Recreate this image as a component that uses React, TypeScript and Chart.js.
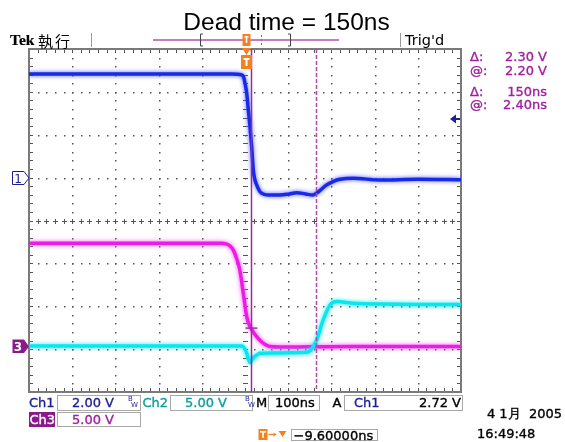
import React, { useEffect, useRef } from 'react';
import { Chart, registerables } from 'chart.js';

Chart.register(...registerables);

// ---- scope settings ----
const timeRangeNs = [-500, 500];
const ch1VoltsPerDiv = 2;
const ch1GroundDiv = 1;
const ch2VoltsPerDiv = 5;
const ch2GroundDiv = -2.95;
const ch3VoltsPerDiv = 5;
const ch3GroundDiv = -2.95;
const cursorTimesNs = [13.9, 163.9];
const cursorVoltCh3 = 2.2;
const triggerLevelCh1 = 2.72;
const triggerTimeNs = 3.5;

// ---- Ch1 (blue) ----
const ch1Time = [-500, -30, -8, -3, 1, 4, 7.5, 11.6, 15.5, 19.2, 23, 27, 34.7, 45, 55, 81, 100, 120, 140, 157, 166, 178, 189, 205, 220, 250, 312, 400, 500];
const ch1Volts = [4.83, 4.83, 4.8, 4.68, 4.3, 3.94, 3.2, 2.36, 1.43, 0.35, -0.1, -0.34, -0.66, -0.78, -0.81, -0.81, -0.77, -0.7, -0.76, -0.81, -0.72, -0.52, -0.34, -0.17, -0.08, -0.03, -0.11, -0.08, -0.1];

// ---- Ch2 (cyan) ----
const ch2Time = [-500, -8, -3, 4, 11.6, 15, 19.2, 27, 34.7, 65, 100, 143, 152, 158, 166, 181, 197, 212, 251, 312, 400, 500];
const ch2Volts = [0.12, 0.12, 0.0, -0.73, -1.82, -1.6, -1.27, -0.95, -0.73, -0.7, -0.68, -0.62, -0.4, 0.04, 0.82, 3.15, 4.9, 5.29, 5.1, 5.0, 4.95, 4.95];

// ---- Ch3 (magenta) ----
const ch3Time = [-500, -55, -42, -35, -27, -20, -12, -4, 4, 11.6, 19, 27, 35, 42, 50, 58, 80, 150, 250, 500];
const ch3Volts = [12.1, 12.1, 12.0, 11.8, 11.3, 10.4, 8.98, 6.3, 3.54, 2.37, 1.75, 1.2, 0.75, 0.44, 0.2, 0.06, 0.0, 0.02, 0.05, 0.05];

const pts = (t: number[], v: number[]) => t.map((x, i) => ({ x, y: v[i] }));
const axisRange = (vpd: number, g: number) => ({ min: (-4 - g) * vpd, max: (4 - g) * vpd });

const NAVY = '#1e1e96';
const TEAL = '#0a9e9e';
const PURPLE = '#a020a0';
const ORANGE = '#f5801e';

const graticule = {
  id: 'graticule',
  beforeDatasetsDraw(chart: any) {
    const { ctx, chartArea: a } = chart;
    const W = a.right - a.left;
    const H = a.bottom - a.top;
    const dx = W / 10;
    const dy = H / 8;
    ctx.save();
    ctx.fillStyle = '#ffffff';
    ctx.fillRect(a.left, a.top, W, H);
    ctx.fillStyle = '#555';
    // vertical major lines
    for (let i = 1; i < 10; i++) {
      const x = Math.round(a.left + i * dx);
      for (let j = 1; j < 40; j++) {
        const y = Math.round(a.top + (j * dy) / 5);
        if (i === 5) ctx.fillRect(x - 2, y, 5, 1);
        else ctx.fillRect(x, y, 1.5, 1.5);
      }
    }
    // horizontal major lines
    for (let k = 1; k < 8; k++) {
      const y = Math.round(a.top + k * dy);
      for (let j = 1; j < 50; j++) {
        const x = Math.round(a.left + (j * dx) / 5);
        if (k === 4) {
          ctx.fillRect(x, y - 2, 1, 5);
          ctx.fillRect(x - 2, y, 5, 1);
        } else ctx.fillRect(x, y, 1.5, 1.5);
      }
    }
    // edge ticks
    for (let j = 1; j < 50; j++) {
      const x = Math.round(a.left + (j * dx) / 5);
      ctx.fillRect(x, a.top + 1, 1, 3);
      ctx.fillRect(x, a.bottom - 4, 1, 3);
    }
    for (let j = 1; j < 40; j++) {
      const y = Math.round(a.top + (j * dy) / 5);
      ctx.fillRect(a.left + 1, y, 3, 1);
      ctx.fillRect(a.right - 4, y, 3, 1);
    }
    ctx.strokeStyle = '#7a7a7a';
    ctx.lineWidth = 2;
    ctx.strokeRect(a.left, a.top, W, H);
    ctx.restore();
  },
};

const glow = {
  id: 'glow',
  beforeDatasetDraw(chart: any, args: any) {
    const ds: any = chart.data.datasets[args.index];
    chart.ctx.save();
    chart.ctx.shadowColor = ds.glowColor;
    chart.ctx.shadowBlur = 4;
  },
  afterDatasetDraw(chart: any) {
    chart.ctx.restore();
  },
};

const overlays = {
  id: 'overlays',
  afterDatasetsDraw(chart: any) {
    const { ctx, chartArea: a, scales } = chart;
    const xs = scales.x;
    ctx.save();
    // cursor 1 solid
    const c1 = Math.round(xs.getPixelForValue(cursorTimesNs[0])) + 0.5;
    ctx.strokeStyle = '#9a2a9a';
    ctx.lineWidth = 1.5;
    ctx.beginPath();
    ctx.moveTo(c1, a.top);
    ctx.lineTo(c1, a.bottom);
    ctx.stroke();
    // cursor 2 dashed
    const c2 = Math.round(xs.getPixelForValue(cursorTimesNs[1])) + 0.5;
    ctx.strokeStyle = '#b04ab0';
    ctx.setLineDash([4, 2]);
    ctx.beginPath();
    ctx.moveTo(c2, a.top);
    ctx.lineTo(c2, a.bottom);
    ctx.stroke();
    ctx.setLineDash([]);
    // voltage cursor mark on ch3
    const vy = scales.y3.getPixelForValue(cursorVoltCh3);
    ctx.strokeStyle = '#a030a0';
    ctx.beginPath();
    ctx.moveTo(c1 - 6, vy);
    ctx.lineTo(c1 + 6, vy);
    ctx.stroke();
    // trigger level arrow
    const ty = Math.round(scales.y1.getPixelForValue(triggerLevelCh1));
    ctx.fillStyle = NAVY;
    ctx.beginPath();
    ctx.moveTo(a.right - 11, ty);
    ctx.lineTo(a.right - 5, ty - 4.5);
    ctx.lineTo(a.right - 5, ty + 4.5);
    ctx.closePath();
    ctx.fill();
    ctx.fillRect(a.right - 6, ty - 1, 5, 2);
    // orange trigger marker inside
    const tx = xs.getPixelForValue(triggerTimeNs);
    ctx.fillStyle = ORANGE;
    ctx.fillRect(tx - 5.5, a.top + 6, 11, 14);
    ctx.fillStyle = '#fff';
    ctx.fillRect(tx - 3, a.top + 9, 6, 2);
    ctx.fillRect(tx - 1, a.top + 9, 2, 8);
    // orange triangle at the top edge
    ctx.fillStyle = ORANGE;
    ctx.beginPath();
    ctx.moveTo(tx - 4.5, a.top - 1);
    ctx.lineTo(tx + 4.5, a.top - 1);
    ctx.lineTo(tx, a.top + 6);
    ctx.closePath();
    ctx.fill();
    ctx.restore();
  },
};

const T = (props: { x?: number; r?: number; cy: number; s?: number; color?: string; family?: string; weight?: any; stroke?: number; children: any; extra?: any }) => {
  const s = props.s ?? 13;
  const st: any = {
    position: 'absolute',
    top: props.cy - 0.48 * s,
    fontSize: s,
    lineHeight: `${s}px`,
    fontFamily: props.family ?? '"DejaVu Sans", sans-serif',
    fontWeight: props.weight ?? 'normal',
    color: props.color ?? '#000',
    whiteSpace: 'pre',
    WebkitTextStroke: `${props.stroke ?? 0.35}px`,
    ...(props.extra || {}),
  };
  if (props.r !== undefined) st.right = 565 - props.r;
  else st.left = props.x;
  return <div style={st}>{props.children}</div>;
};

const Box = (p: { x1: number; x2: number; y1: number; y2: number; bg?: string; border?: string }) => (
  <div
    style={{
      position: 'absolute',
      left: p.x1,
      top: p.y1,
      width: p.x2 - p.x1,
      height: p.y2 - p.y1,
      boxSizing: 'border-box',
      border: p.border ?? '1px solid #a8a8a8',
      background: p.bg ?? '#fff',
    }}
  />
);

export default function App() {
  const ref = useRef<HTMLCanvasElement>(null);
  useEffect(() => {
    document.body.style.margin = '0';
    const r1 = axisRange(ch1VoltsPerDiv, ch1GroundDiv);
    const r2 = axisRange(ch2VoltsPerDiv, ch2GroundDiv);
    const r3 = axisRange(ch3VoltsPerDiv, ch3GroundDiv);
    const chart = new Chart(ref.current as HTMLCanvasElement, {
      type: 'line',
      data: {
        datasets: [
          { label: 'Ch1', data: pts(ch1Time, ch1Volts), yAxisID: 'y1', borderColor: '#1a28e8', glowColor: 'rgba(60,80,255,0.9)', borderWidth: 3.5, pointRadius: 0, cubicInterpolationMode: 'monotone' } as any,
          { label: 'Ch2', data: pts(ch2Time, ch2Volts), yAxisID: 'y2', borderColor: '#08e6f0', glowColor: 'rgba(0,235,245,0.9)', borderWidth: 3.5, pointRadius: 0, cubicInterpolationMode: 'monotone' } as any,
          { label: 'Ch3', data: pts(ch3Time, ch3Volts), yAxisID: 'y3', borderColor: '#ee1ae6', glowColor: 'rgba(245,60,240,0.9)', borderWidth: 3.5, pointRadius: 0, cubicInterpolationMode: 'monotone' } as any,
        ],
      },
      options: {
        responsive: false,
        animation: false,
        devicePixelRatio: 1,
        layout: { padding: { left: 29, top: 49, right: 104, bottom: 50 } },
        plugins: { legend: { display: false }, tooltip: { enabled: false }, title: { display: false } },
        scales: {
          x: { type: 'linear', min: timeRangeNs[0], max: timeRangeNs[1], display: false },
          y1: { type: 'linear', min: r1.min, max: r1.max, display: false },
          y2: { type: 'linear', min: r2.min, max: r2.max, display: false },
          y3: { type: 'linear', min: r3.min, max: r3.max, display: false },
        },
      },
      plugins: [graticule, glow, overlays],
    });
    return () => chart.destroy();
  }, []);

  return (
    <div style={{ position: 'absolute', left: 0, top: 0, width: 565, height: 442, overflow: 'hidden', background: '#fff' }}>
      <canvas ref={ref} width={565} height={442} style={{ position: 'absolute', left: 0, top: 0 }} />
      {/* title */}
      <div style={{ position: 'absolute', left: 0, width: 573, top: 10, textAlign: 'center', fontFamily: '"Liberation Sans", Arial, sans-serif', fontSize: 24.5, lineHeight: '24px', color: '#000' }}>
        Dead time = 150ns
      </div>
      {/* header */}
      <T x={10} cy={39.5} s={15.5} family='"Liberation Serif", serif' weight="bold" stroke={0.2}>Tek</T>
      <T x={38} cy={40} s={15} family='"Noto Sans CJK JP", sans-serif' stroke={0} extra={{ letterSpacing: 2 }}>執行</T>
      <T x={405} cy={40} s={14.5} stroke={0}>Trig'd</T>
      <svg width={565} height={442} style={{ position: 'absolute', left: 0, top: 0, pointerEvents: 'none' }}>
        <line x1={91.5} y1={33} x2={91.5} y2={47} stroke="#999" strokeWidth={1} />
        <line x1={400.5} y1={33} x2={400.5} y2={47} stroke="#999" strokeWidth={1} />
        <line x1={153} y1={40} x2={339} y2={40} stroke="#b050b0" strokeWidth={1.5} />
        <polyline points="203,34 200.5,34 200.5,46 203,46" fill="none" stroke="#444" strokeWidth={1} />
        <polyline points="288,34 290.5,34 290.5,46 288,46" fill="none" stroke="#444" strokeWidth={1} />
        <line x1={261.5} y1={35} x2={261.5} y2={46} stroke="#b050b0" strokeWidth={1} strokeDasharray="2,2" />
        <rect x={242.5} y={34} width={8} height={12} fill={ORANGE} />
        <rect x={244.5} y={36} width={4} height={1.6} fill="#fff" />
        <rect x={245.8} y={36} width={1.5} height={7} fill="#fff" />
        {/* channel markers */}
        <polygon points="12.5,171.5 24,171.5 29,178 24,184.5 12.5,184.5" fill="#fff" stroke={NAVY} strokeWidth={1} />
        <text x={18} y={182.5} fontSize={12} fontFamily='"DejaVu Sans", sans-serif' fill={NAVY} textAnchor="middle">1</text>
        <polygon points="12.5,339.5 24,339.5 29,346.5 24,353 12.5,353" fill="#8a1a8a" />
        <text x={18} y={351} fontSize={12} fontWeight="bold" fontFamily='"DejaVu Sans", sans-serif' fill="#fff" textAnchor="middle">3</text>
        {/* falling edge symbol */}
        <polyline points="390,399 394,399 396.5,407.5" fill="none" stroke="#000" strokeWidth={1.6} />
        {/* bottom trigger icon */}
        <rect x={258.5} y={429} width={9} height={11} fill={ORANGE} />
        <rect x={260} y={431} width={6} height={1.6} fill="#fff" />
        <rect x={262.2} y={431} width={1.6} height={7} fill="#fff" />
        <line x1={268.5} y1={434.5} x2={275.5} y2={434.5} stroke={ORANGE} strokeWidth={1.2} />
        <polygon points="273.5,432.5 276.5,434.5 273.5,436.5" fill={ORANGE} />
        <polygon points="278.5,431 286.5,431 282.5,437" fill={ORANGE} />
      </svg>
      {/* right readouts */}
      <T x={470} cy={56} color={PURPLE}>Δ:</T>
      <T r={547} cy={56} color={PURPLE}>2.30 V</T>
      <T x={470} cy={70} color={PURPLE}>@:</T>
      <T r={547} cy={70} color={PURPLE}>2.20 V</T>
      <T x={470} cy={91} color={PURPLE}>Δ:</T>
      <T r={547} cy={91} color={PURPLE}>150ns</T>
      <T x={470} cy={104} color={PURPLE}>@:</T>
      <T r={547} cy={104} color={PURPLE}>2.40ns</T>
      {/* bottom status row 1 */}
      <Box x1={56.5} x2={140.5} y1={395} y2={411} />
      <Box x1={170} x2={253} y1={395} y2={411} />
      <Box x1={268} x2={320} y1={395} y2={411} />
      <Box x1={343.5} x2={463} y1={395} y2={411} />
      <T x={29} cy={402.5} color={NAVY}>Ch1</T>
      <T x={72} cy={402.5} color={NAVY}>2.00 V</T>
      <T x={128} cy={399} s={7} color={NAVY} stroke={0}>B</T>
      <T x={131} cy={405} s={7} color={NAVY} stroke={0}>W</T>
      <T x={142.5} cy={402.5} color={TEAL}>Ch2</T>
      <T x={185} cy={402.5} color={TEAL}>5.00 V</T>
      <T x={245} cy={399} s={7} color={NAVY} stroke={0}>B</T>
      <T x={248} cy={405} s={7} color={NAVY} stroke={0}>W</T>
      <T x={256} cy={402.5}>M</T>
      <T x={275} cy={402.5}>100ns</T>
      <T x={332.5} cy={402.5}>A</T>
      <T x={354} cy={402.5} color={NAVY}>Ch1</T>
      <T r={461} cy={402.5}>2.72 V</T>
      {/* row 2 */}
      <Box x1={29} x2={55} y1={412} y2={427} bg="#8a1a8a" border="none" />
      <T x={29.5} cy={419.5} color="#fff">Ch3</T>
      <Box x1={56.5} x2={140.5} y1={412} y2={427} />
      <T x={72} cy={419.5} color={PURPLE}>5.00 V</T>
      {/* date / time */}
      <T r={562} cy={413.5}>4 1月  2005</T>
      <T x={477} cy={433}>16:49:48</T>
      {/* trigger position */}
      <Box x1={290.5} x2={378} y1={428.5} y2={441} />
      <T x={293.5} cy={435}>−9.60000ns</T>
    </div>
  );
}
